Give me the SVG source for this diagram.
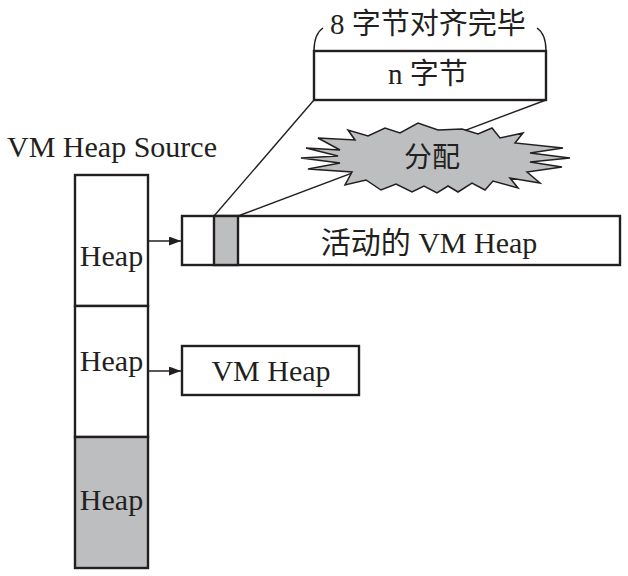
<svg xmlns="http://www.w3.org/2000/svg" width="628" height="576" viewBox="0 0 628 576">
<style>
.box{fill:#fff;stroke:#231f20;stroke-width:2.4}
.gray{fill:#bcbec0;stroke:#231f20;stroke-width:2.4}
.ln{fill:none;stroke:#231f20;stroke-width:1.4}
.t{font-family:"Liberation Serif","Noto Sans CJK SC",serif;fill:#231f20;font-size:30px;text-anchor:middle}
</style>
<defs>
<marker id="ah" markerWidth="12" markerHeight="9" refX="12" refY="4.5" orient="auto" markerUnits="userSpaceOnUse">
<path d="M0,0 L12,4.5 L0,9 Z" fill="#231f20"/>
</marker>
</defs>
<rect width="628" height="576" fill="#fff"/>
<g id="connectors">
<line class="ln" x1="314" y1="100" x2="214" y2="216"/>
<line class="ln" x1="546" y1="100" x2="238" y2="216"/>
<line class="ln" x1="148" y1="241" x2="181" y2="241" marker-end="url(#ah)"/>
<line class="ln" x1="148" y1="371" x2="181" y2="371" marker-end="url(#ah)"/>
</g>
<g id="source">
<text class="t" x="7" y="157" style="text-anchor:start">VM Heap Source</text>
<rect class="box" x="75" y="175" width="73" height="131"/>
<rect class="box" x="75" y="306" width="73" height="131"/>
<rect class="gray" x="75" y="437" width="73" height="131"/>
<text class="t" x="111.5" y="266">Heap</text>
<text class="t" x="111.5" y="371">Heap</text>
<text class="t" x="111.5" y="510">Heap</text>
</g>
<g id="active-heap">
<rect class="box" x="182" y="216" width="438" height="49"/>
<rect class="gray" x="214" y="216" width="24" height="49"/>
<text class="t" x="429" y="253">活动的 VM Heap</text>
</g>
<g id="vm-heap">
<rect class="box" x="182" y="346" width="177" height="49"/>
<text class="t" x="271" y="381">VM Heap</text>
</g>
<g id="n-bytes">
<rect class="box" x="314" y="51" width="232" height="49"/>
<text class="t" x="428" y="84" style="font-size:29px">n 字节</text>
</g>
<g id="align">
<path class="ln" d="M314,51 C314,40 317,32 323,28"/>
<path class="ln" d="M537,28 C543,32 546,40 546,51"/>
<text class="t" x="428" y="34" style="font-size:29px">8 字节对齐完毕</text>
</g>
<g id="alloc">
<polygon fill="#bcbec0" stroke="#231f20" stroke-width="1.5" stroke-linejoin="miter" points="301,158 338,156 306,148 340,150 318,138 355,140 348,130 368,136 385,128 400,133 418,123 438,130 462,129 478,134 492,128 500,138 523,133 515,143 563,148 530,153 570,158 530,162 562,167 527,172 540,183 510,178 518,188 493,181 485,190 472,183 458,192 448,186 437,193 424,186 412,192 396,184 381,190 366,180 345,185 352,172 308,169 340,163"/>
<text class="t" x="432" y="167" style="font-size:28px">分配</text>
</g>
</svg>
